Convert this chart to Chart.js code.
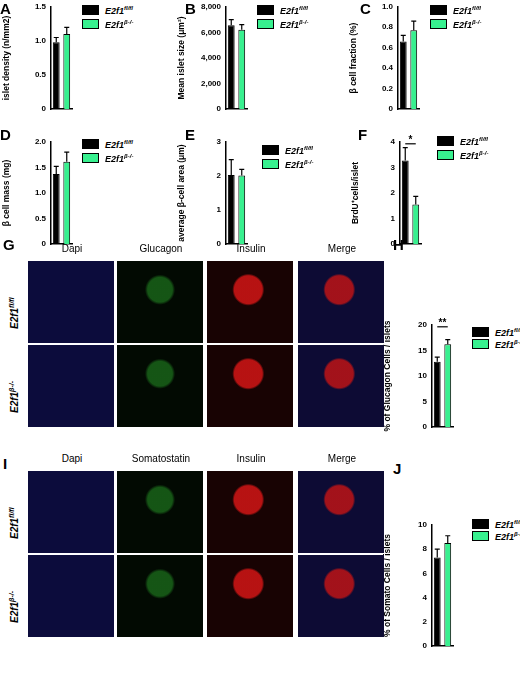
<!DOCTYPE html>
<html><head><meta charset="utf-8">
<script src="https://cdn.jsdelivr.net/npm/chart.js@4"></script>
<style>
body{margin:0;width:520px;height:681px;background:#fff;position:relative;font-family:"Liberation Sans",Arial,sans-serif;overflow:hidden}
canvas,.abs{position:absolute}
.pl{position:absolute;font-weight:bold;font-size:15px}
.lg{position:absolute;font-size:9px;font-weight:bold;font-style:italic;line-height:14px;white-space:nowrap}
.lg span{display:inline-block;width:15px;height:8px;border:1px solid #000;margin-right:6px;vertical-align:-1px}
.hd{position:absolute;font-size:10px;text-align:center;width:88px}
.img{position:absolute;width:86px}
.rl{position:absolute;font-size:10px;font-weight:bold;font-style:italic;transform:rotate(-90deg);transform-origin:left top;white-space:nowrap}
</style></head><body>
<script>
'use strict';

const groups = ['E2f1 fl/fl', 'E2f1 β-/-'];
const black = '#000000', green = '#38f08f';

const densityVals = [0.98, 1.10], densityErr = [0.07, 0.10];
const sizeVals = [6550, 6200], sizeErr = [450, 400];
const fractionVals = [0.66, 0.77], fractionErr = [0.06, 0.09];
const massVals = [1.37, 1.61], massErr = [0.15, 0.19];
const areaVals = [2.03, 2.01], areaErr = [0.45, 0.18];
const brduVals = [3.27, 1.55], brduErr = [0.50, 0.32];
const glucagonVals = [12.8, 16.2], glucagonErr = [0.9, 0.9];
const somatoVals = [7.3, 8.5], somatoErr = [0.7, 0.6];

const addDiv = (cls, html, x, y, extra) => {
	const d = document.createElement('div');
	d.className = cls;
	d.innerHTML = html;
	d.style.left = x + 'px';
	d.style.top = y + 'px';
	if (extra) Object.assign(d.style, extra);
	document.body.appendChild(d);
	return d;
}

const errorBars = {
	id: 'errorBars',
	afterDatasetsDraw(chart, args, opts) {
		const {ctx} = chart;
		const meta = chart.getDatasetMeta(0);
		const y = chart.scales.y;
		ctx.save();
		ctx.strokeStyle = '#000';
		ctx.lineWidth = 1.2;
		meta.data.forEach((bar, i) => {
			const v = chart.data.datasets[0].data[i];
			const top = y.getPixelForValue(v + opts.err[i]);
			ctx.beginPath();
			ctx.moveTo(bar.x, bar.y);
			ctx.lineTo(bar.x, top);
			ctx.moveTo(bar.x - 2.5, top);
			ctx.lineTo(bar.x + 2.5, top);
			ctx.stroke();
		});
		if (opts.star) {
			const a = meta.data[0].x, b = meta.data[1].x;
			const yy = y.getPixelForValue(y.max) + 2;
			ctx.beginPath();
			ctx.moveTo(a, yy);
			ctx.lineTo(b, yy);
			ctx.stroke();
			ctx.fillStyle = '#000';
			ctx.font = 'bold 10px "Liberation Sans"';
			ctx.textAlign = 'center';
			ctx.fillText(opts.star, (a + b) / 2, yy - 1);
		}
		ctx.restore();
	}
};

const makeBar = (ax, ty, by, vals, err, max, step, title, star) => {
	const c = document.createElement('canvas');
	c.width = 72;
	c.height = by - ty + 12;
	c.style.left = (ax - 50) + 'px';
	c.style.top = (ty - 6) + 'px';
	document.body.appendChild(c);
	new Chart(c, {
		type: 'bar',
		data: {
			labels: groups,
			datasets: [{
				data: vals,
				backgroundColor: [black, green],
				borderColor: black,
				borderWidth: 1,
				barPercentage: 0.65,
				categoryPercentage: 1,
			}],
		},
		options: {
			responsive: false,
			animation: false,
			layout: {padding: {top: 6, right: 1}},
			plugins: {legend: {display: false}, tooltip: {enabled: false}, errorBars: {err: err, star: star}},
			scales: {
				x: {
					grid: {display: false},
					border: {color: '#000', width: 1.5},
					ticks: {display: false},
					afterFit: s => { s.height = 6; },
				},
				y: {
					min: 0, max: max,
					grid: {display: false, drawTicks: true, tickLength: 3},
					border: {color: '#000', width: 1.5},
					ticks: {stepSize: step, color: '#000', font: {size: 8, weight: 'bold', family: 'Liberation Sans'}, padding: 2},
					title: {display: true, text: title, color: '#000', font: {size: 8.5, weight: 'bold', family: 'Liberation Sans'}, padding: 1},
					afterFit: s => { s.width = 50; },
				},
			},
		},
		plugins: [errorBars],
	});
}

const legend = (x, y, gap) => {
	addDiv('lg', '<span style="background:#000"></span>E2f1<sup style="font-size:6px">fl/fl</sup>', x, y);
	addDiv('lg', '<span style="background:' + green + '"></span>E2f1<sup style="font-size:6px">β-/-</sup>', x, y + (gap || 14));
}

makeBar(51, 6, 110, densityVals, densityErr, 1.5, 0.5, 'islet density (n/mm2)');
makeBar(226, 6, 110, sizeVals, sizeErr, 8000, 2000, 'Mean islet size (μm²)');
makeBar(398, 6, 110, fractionVals, fractionErr, 1.0, 0.2, 'β cell fraction (%)');
makeBar(51, 141, 245, massVals, massErr, 2.0, 0.5, 'β cell mass (mg)');
makeBar(226, 141, 245, areaVals, areaErr, 3, 1, 'average β-cell area (μm)');
makeBar(400, 141, 245, brduVals, brduErr, 4, 1, 'BrdU⁺cells/islet', '*');
makeBar(432, 324, 428, glucagonVals, glucagonErr, 20, 5, '% of Glucagon Cells / islets', '**');
makeBar(432, 524, 647, somatoVals, somatoErr, 10, 2, '% of Somato Cells / islets');

legend(82, 1); legend(257, 1); legend(430, 1);
legend(82, 135); legend(262, 141); legend(437, 132);
legend(472, 323, 12); legend(472, 515, 12);

addDiv('pl', 'A', 0, 0); addDiv('pl', 'B', 185, 0); addDiv('pl', 'C', 360, 0);
addDiv('pl', 'D', 0, 126); addDiv('pl', 'E', 185, 126); addDiv('pl', 'F', 358, 126);
addDiv('pl', 'G', 3, 236); addDiv('pl', 'H', 393, 236); addDiv('pl', 'I', 3, 455); addDiv('pl', 'J', 393, 460);

// micrograph placeholders
const cols = [28, 117, 207, 298];
const tints = ['#0c0c3c', '#020a02', '#180303', '#0d0b34'];
const blobs = ['none', 'radial-gradient(circle at 50% 35%, rgba(40,160,40,.5) 0 18%, transparent 22%)',
	'radial-gradient(circle at 48% 35%, rgba(200,20,20,.9) 0 20%, transparent 23%)',
	'radial-gradient(circle at 48% 35%, rgba(200,20,20,.8) 0 20%, transparent 23%)'];
const drawImages = (headers, y1, y2) => {
	headers.forEach((h, i) => addDiv('hd', h, cols[i], y1 - 18));
	[y1, y2].forEach(y => cols.forEach((x, i) => {
		addDiv('img', '', x, y, {height: '82px', background: blobs[i] === 'none' ? tints[i] : blobs[i] + ',' + tints[i]});
	}));
	addDiv('rl', 'E2f1<sup style="font-size:7px">fl/fl</sup>', 8, y1 + 68);
	addDiv('rl', 'E2f1<sup style="font-size:7px">β-/-</sup>', 8, y2 + 68);
}
drawImages(['Dapi', 'Glucagon', 'Insulin', 'Merge'], 261, 345);
drawImages(['Dapi', 'Somatostatin', 'Insulin', 'Merge'], 471, 555);
</script>
</body></html>
